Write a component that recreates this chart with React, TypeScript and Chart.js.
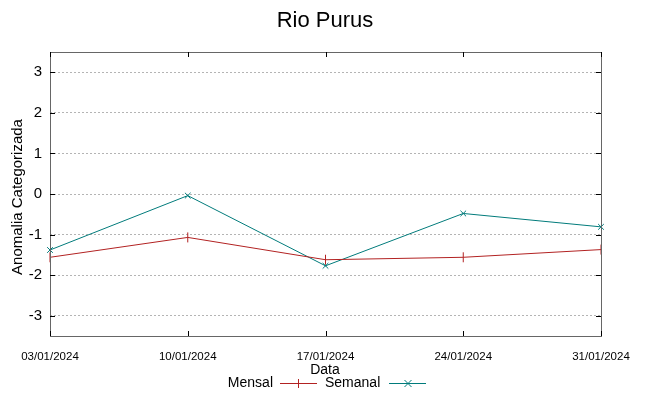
import React, { useEffect, useRef } from "react";
import { Chart, registerables } from "chart.js";

Chart.register(...registerables);

const chartTitle = "Rio Purus";
const xTitle = "Data";
const yTitle = "Anomalia Categorizada";
const categories = ["03/01/2024", "10/01/2024", "17/01/2024", "24/01/2024", "31/01/2024"];
const mensal = [-1.56, -1.07, -1.62, -1.56, -1.37];
const semanal = [-1.38, -0.04, -1.77, -0.48, -0.81];
const yTicks = [-3, -2, -1, 0, 1, 2, 3];

const RED = "#b22222";
const TEAL = "#007b7b";
const FONT = "'Liberation Sans', Arial, sans-serif";

const decorPlugin = {
  id: "decor",
  afterDraw(chart: any) {
    const ctx = chart.ctx as CanvasRenderingContext2D;
    const a = chart.chartArea;
    const xs = chart.scales.x;
    const ys = chart.scales.y;
    ctx.save();
    // border
    ctx.strokeStyle = "#666";
    ctx.lineWidth = 1;
    ctx.strokeRect(Math.round(a.left) + 0.5, Math.round(a.top) + 0.5, Math.round(a.right - a.left), Math.round(a.bottom - a.top));
    // inner ticks
    ctx.strokeStyle = "#000";
    ctx.beginPath();
    yTicks.forEach((v) => {
      const y = Math.round(ys.getPixelForValue(v)) + 0.5;
      ctx.moveTo(a.left, y);
      ctx.lineTo(a.left + 5, y);
      ctx.moveTo(a.right, y);
      ctx.lineTo(a.right - 5, y);
    });
    categories.forEach((_, i) => {
      const x = Math.round(xs.getPixelForValue(i)) + 0.5;
      ctx.moveTo(x, a.bottom);
      ctx.lineTo(x, a.bottom - 5);
      ctx.moveTo(x, a.top);
      ctx.lineTo(x, a.top + 5);
    });
    ctx.stroke();
    // title
    ctx.fillStyle = "#000";
    ctx.font = `22px ${FONT}`;
    ctx.textAlign = "center";
    ctx.textBaseline = "alphabetic";
    ctx.fillText(chartTitle, 325, 27);
    // x title
    ctx.font = `14px ${FONT}`;
    ctx.textBaseline = "middle";
    ctx.fillText(xTitle, 325, 370);
    // y title
    ctx.save();
    ctx.font = `15px ${FONT}`;
    ctx.translate(18, 197);
    ctx.rotate(-Math.PI / 2);
    ctx.fillText(yTitle, 0, 0);
    ctx.restore();
    // legend
    const ly = 383;
    ctx.textAlign = "right";
    ctx.fillText("Mensal", 273, ly);
    ctx.textAlign = "left";
    ctx.fillText("Semanal", 325, ly);
    ctx.lineWidth = 1;
    ctx.strokeStyle = RED;
    ctx.beginPath();
    ctx.moveTo(280, ly + 0.5);
    ctx.lineTo(317, ly + 0.5);
    ctx.moveTo(298.5, ly - 4);
    ctx.lineTo(298.5, ly + 5);
    ctx.stroke();
    ctx.strokeStyle = TEAL;
    ctx.beginPath();
    ctx.moveTo(389, ly + 0.5);
    ctx.lineTo(426, ly + 0.5);
    ctx.moveTo(404.5, ly - 3);
    ctx.lineTo(411.5, ly + 4);
    ctx.moveTo(411.5, ly - 3);
    ctx.lineTo(404.5, ly + 4);
    ctx.stroke();
    ctx.restore();
  },
};

export default function App() {
  const ref = useRef<HTMLCanvasElement | null>(null);
  useEffect(() => {
    if (!ref.current) return;
    const chart = new Chart(ref.current, {
      type: "line",
      data: {
        labels: categories,
        datasets: [
          {
            label: "Mensal",
            data: mensal,
            borderColor: RED,
            backgroundColor: RED,
            borderWidth: 1,
            pointStyle: "line",
            rotation: 90,
            pointRadius: 5,
            pointBorderWidth: 1,
            tension: 0,
          } as any,
          {
            label: "Semanal",
            data: semanal,
            borderColor: TEAL,
            backgroundColor: TEAL,
            borderWidth: 1,
            pointStyle: "crossRot",
            pointRadius: 4,
            pointBorderWidth: 1,
            tension: 0,
          } as any,
        ],
      },
      options: {
        responsive: false,
        animation: false,
        layout: { padding: { left: 0, right: 48, top: 52, bottom: 0 } },
        plugins: { legend: { display: false }, title: { display: false }, tooltip: { enabled: false } },
        scales: {
          x: {
            type: "category",
            offset: false,
            grid: { display: false, drawTicks: false },
            border: { display: false },
            ticks: {
              color: "#000",
              font: { family: FONT, size: 11.5 },
              padding: 14,
              maxRotation: 0,
              autoSkip: false,
            },
            afterFit: (s: any) => {
              s.height = 60;
            },
          },
          y: {
            min: -3.5,
            max: 3.5,
            afterBuildTicks: (s: any) => {
              s.ticks = yTicks.map((v) => ({ value: v }));
            },
            grid: {
              color: "#b4b4b4",
              lineWidth: 1,
              drawTicks: false,
            },
            border: { display: false, dash: [2, 2] },
            ticks: {
              color: "#000",
              font: { family: FONT, size: 15 },
              padding: 8,
            },
            afterFit: (s: any) => {
              s.width = 50;
            },
          },
        },
      } as any,
      plugins: [decorPlugin],
    });
    return () => chart.destroy();
  }, []);
  return (
    <div style={{ position: "fixed", left: 0, top: 0, width: 649, height: 396, background: "#fff" }}>
      <canvas ref={ref} width={649} height={396} />
    </div>
  );
}
